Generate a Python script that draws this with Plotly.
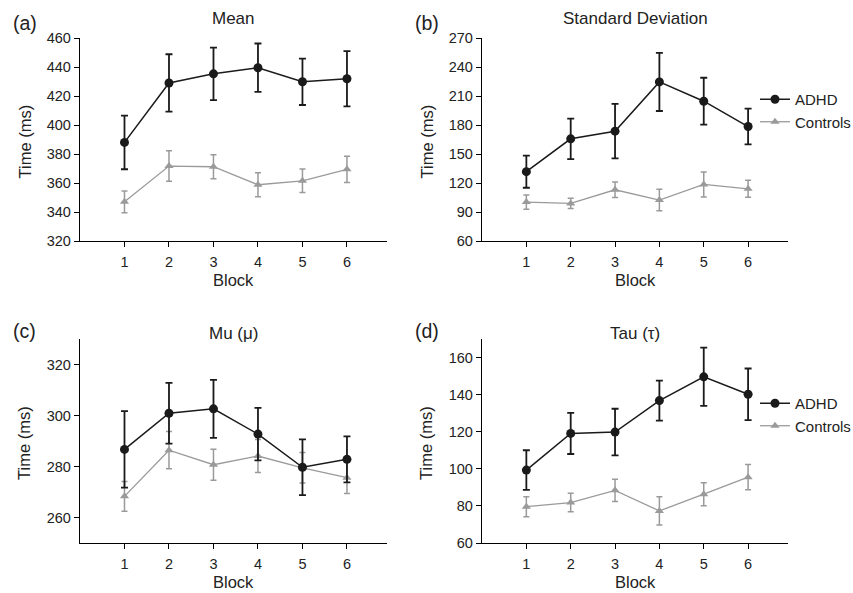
import plotly.graph_objects as go

blocks = [1, 2, 3, 4, 5, 6]

mean_adhd = [388, 429, 435.3, 439.5, 429.8, 431.9]
mean_adhd_err = [18.5, 19.8, 18.1, 16.7, 16.0, 19.0]
mean_ctrl = [347, 371.7, 371.2, 358.8, 361.5, 369.4]
mean_ctrl_err = [7.5, 10.5, 8.3, 8.3, 8.1, 9.0]

sd_adhd = [131.7, 165.7, 173.6, 224.6, 204.6, 178.4]
sd_adhd_err = [16.6, 20.9, 28.2, 30.1, 24.3, 18.5]
sd_ctrl = [100.3, 98.9, 113.0, 102.4, 118.5, 114.0]
sd_ctrl_err = [7.4, 5.3, 8.1, 11.2, 12.9, 8.8]

mu_adhd = [286.7, 300.9, 302.6, 292.7, 279.7, 282.8]
mu_adhd_err = [15.0, 11.9, 11.4, 10.3, 10.9, 9.0]
mu_ctrl = [268.3, 286.4, 280.7, 284.1, 279.5, 275.6]
mu_ctrl_err = [5.8, 7.3, 6.1, 6.5, 6.0, 6.2]

tau_adhd = [99.3, 119.1, 119.8, 136.8, 149.6, 140.2]
tau_adhd_err = [10.7, 11.1, 12.6, 10.8, 15.7, 13.9]
tau_ctrl = [79.6, 81.8, 88.4, 77.3, 86.3, 95.5]
tau_ctrl_err = [5.4, 5.0, 6.0, 7.6, 6.2, 6.8]

panel_titles = ["Mean", "Standard Deviation", "Mu (\u03bc)", "Tau (\u03c4)"]
panel_letters = ["(a)", "(b)", "(c)", "(d)"]
y_ranges = [[320, 460], [60, 270], [250, 330], [60, 170]]
y_ticks = [[320, 340, 360, 380, 400, 420, 440, 460],
           [60, 90, 120, 150, 180, 210, 240, 270],
           [260, 280, 300, 320],
           [60, 80, 100, 120, 140, 160]]

W, H = 853, 593
FONT = "Liberation Sans, Arial, sans-serif"
ADHD_C = "#1a1a1a"
CTRL_C = "#9a9a9a"
TXT = "#222222"

# pixel boxes: (left, right, top, bottom)
boxes = [(80, 387, 38, 241), (482, 788, 38, 241),
         (80, 387, 339, 543), (482, 788, 339, 543)]
# vertical centre of panel title / letter (pixels from top)
title_y = [18, 18, 333, 333]
letter_y = [23, 23, 331, 331]

data_sets = [
    (mean_adhd, mean_adhd_err, mean_ctrl, mean_ctrl_err),
    (sd_adhd, sd_adhd_err, sd_ctrl, sd_ctrl_err),
    (mu_adhd, mu_adhd_err, mu_ctrl, mu_ctrl_err),
    (tau_adhd, tau_adhd_err, tau_ctrl, tau_ctrl_err),
]

fig = go.Figure()
layout = dict(
    width=W, height=H, margin=dict(l=0, r=0, t=0, b=0, pad=0, autoexpand=False),
    paper_bgcolor="white", plot_bgcolor="white",
    font=dict(family=FONT, size=14, color=TXT),
    showlegend=True,
)
annotations = []

for i, (ad, ade, ct, cte) in enumerate(data_sets):
    sfx = "" if i == 0 else str(i + 1)
    xa, ya = "x" + sfx, "y" + sfx
    leg = None
    if i == 1:
        leg = "legend"
    elif i == 3:
        leg = "legend2"
    show = leg is not None
    fig.add_trace(go.Scatter(
        x=blocks, y=ct, xaxis=xa, yaxis=ya, name="Controls",
        mode="lines+markers",
        line=dict(color=CTRL_C, width=1.3),
        marker=dict(symbol="triangle-up", size=8, color=CTRL_C),
        error_y=dict(type="data", array=cte, color=CTRL_C, thickness=1.5, width=3),
        showlegend=show, legend=leg if leg else "legend", legendrank=2,
    ))
    fig.add_trace(go.Scatter(
        x=blocks, y=ad, xaxis=xa, yaxis=ya, name="ADHD",
        mode="lines+markers",
        line=dict(color=ADHD_C, width=1.5),
        marker=dict(symbol="circle", size=9, color=ADHD_C),
        error_y=dict(type="data", array=ade, color=ADHD_C, thickness=1.8, width=3.5),
        showlegend=show, legend=leg if leg else "legend", legendrank=1,
    ))
    l, r, t, b = boxes[i]
    layout["xaxis" + sfx] = dict(
        domain=[l / W, r / W], anchor=ya, range=[0, 6.9],
        tickvals=blocks, ticks="outside", ticklen=5, tickwidth=1.2,
        tickcolor="black", showline=True, linecolor="black", linewidth=1.3,
        showgrid=False, zeroline=False, fixedrange=True, automargin=False,
        tickfont=dict(size=14.5, color=TXT), ticklabelstandoff=2,
    )
    layout["yaxis" + sfx] = dict(
        domain=[1 - b / H, 1 - t / H], anchor=xa, range=y_ranges[i],
        tickvals=y_ticks[i], ticks="outside", ticklen=5, tickwidth=1.2,
        tickcolor="black", showline=True, linecolor="black", linewidth=1.3,
        showgrid=False, zeroline=False, fixedrange=True, automargin=False,
        tickfont=dict(size=14.5, color=TXT),
    )
    cx = (l + r) / 2
    annotations.append(dict(text=panel_titles[i], x=cx / W, y=1 - title_y[i] / H,
                            xref="paper", yref="paper", showarrow=False,
                            font=dict(size=17, color=TXT),
                            xanchor="center", yanchor="middle"))
    annotations.append(dict(text=panel_letters[i], x=(l - 69) / W, y=1 - letter_y[i] / H,
                            xref="paper", yref="paper", showarrow=False,
                            font=dict(size=19.5, color=TXT),
                            xanchor="left", yanchor="middle"))
    annotations.append(dict(text="Block", x=cx / W, y=1 - (b + 39) / H,
                            xref="paper", yref="paper", showarrow=False,
                            font=dict(size=16.5, color=TXT),
                            xanchor="center", yanchor="middle"))
    annotations.append(dict(text="Time (ms)", x=(l - 56) / W, y=1 - ((t + b) / 2 + 2) / H,
                            xref="paper", yref="paper", showarrow=False, textangle=-90,
                            font=dict(size=16.5, color=TXT),
                            xanchor="center", yanchor="middle"))

layout["annotations"] = annotations
layout["legend"] = dict(x=755 / W, y=1 - 83 / H, xanchor="left", yanchor="top",
                        font=dict(size=15, color=TXT), bgcolor="rgba(0,0,0,0)",
                        traceorder="normal", itemclick=False, tracegroupgap=0)
layout["legend2"] = dict(x=755 / W, y=1 - 387 / H, xanchor="left", yanchor="top",
                         font=dict(size=15, color=TXT), bgcolor="rgba(0,0,0,0)",
                         traceorder="normal", itemclick=False, tracegroupgap=0)
fig.update_layout(**layout)
fig.write_html("out.html", config={"displayModeBar": False},
               post_script="document.body.style.margin='0px';document.body.style.overflow='hidden';")
